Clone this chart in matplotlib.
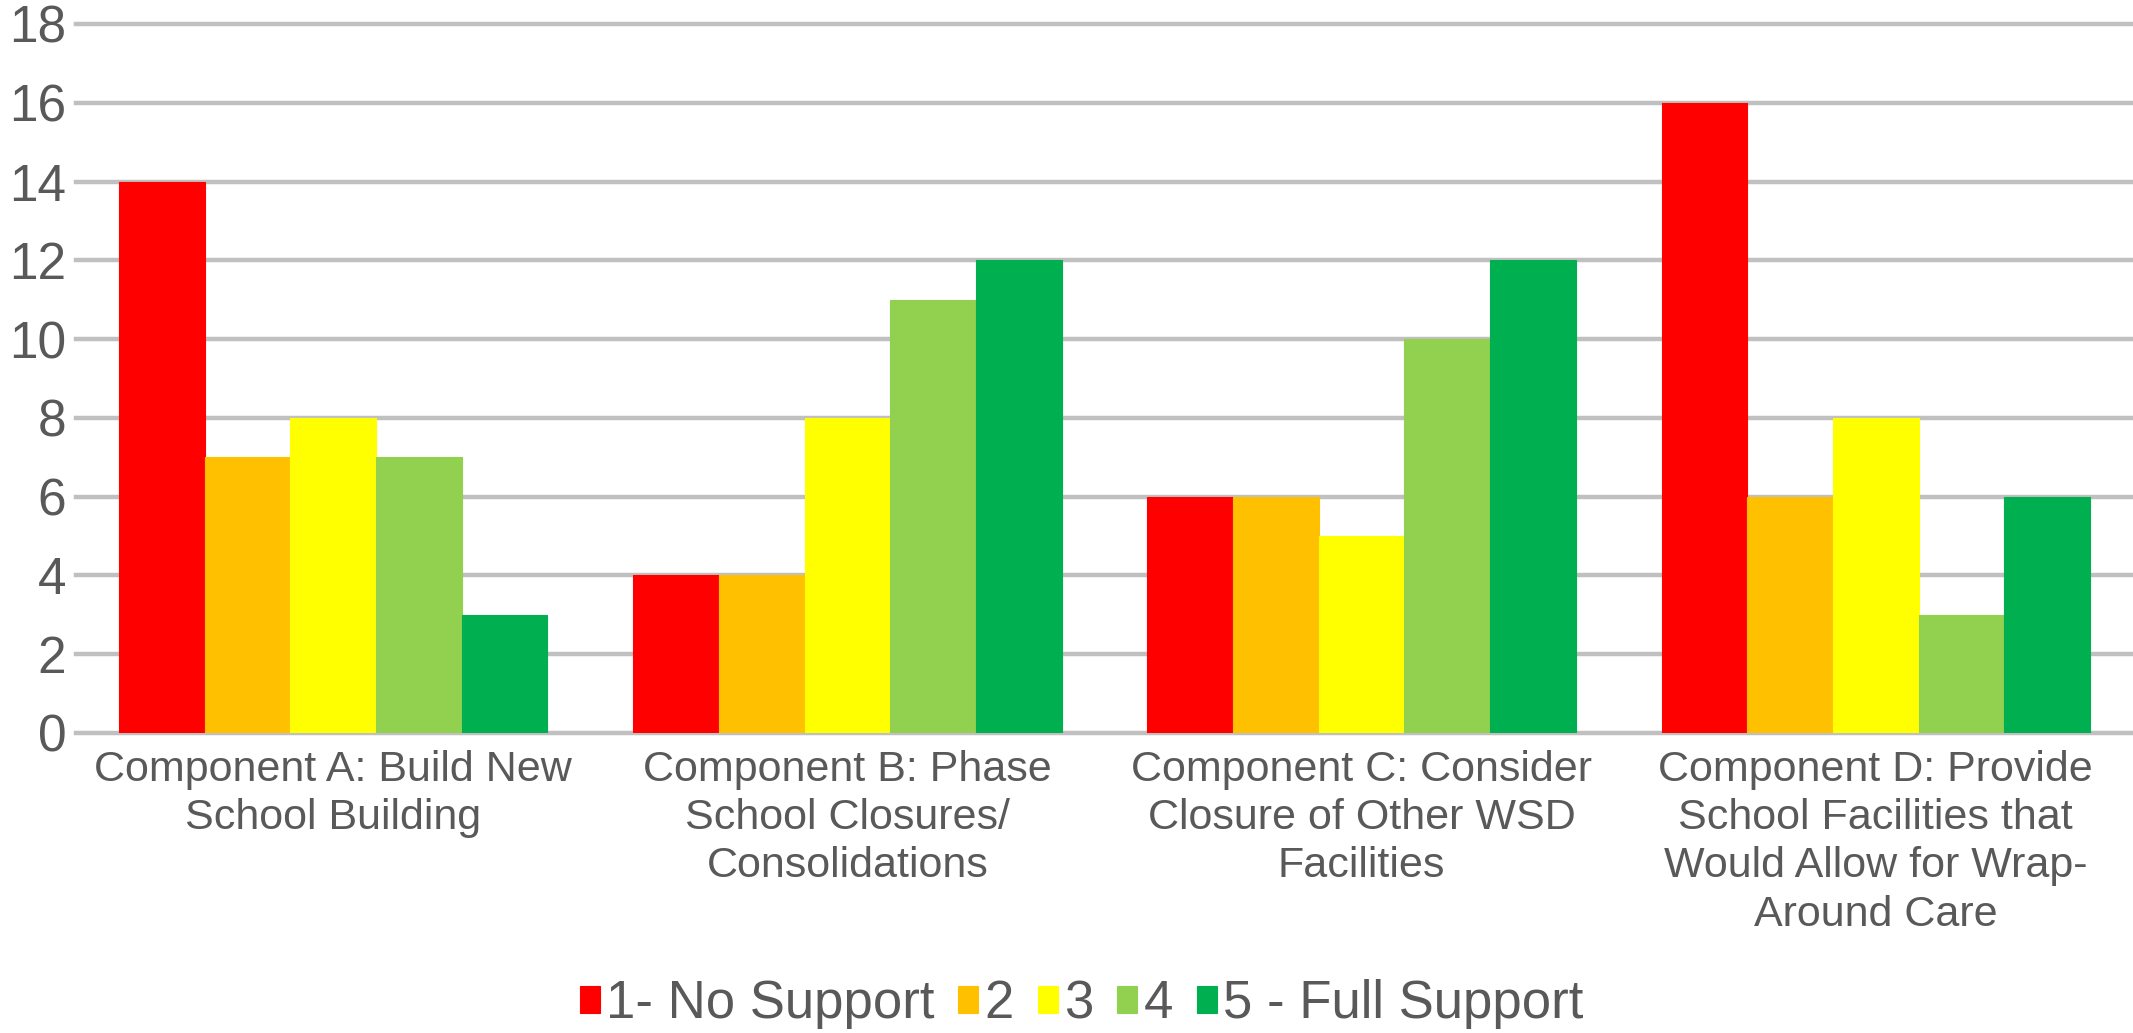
import numpy as np
import matplotlib
matplotlib.use("Agg")
import matplotlib.pyplot as plt

categories = [
    "Component A: Build New\nSchool Building",
    "Component B: Phase\nSchool Closures/\nConsolidations",
    "Component C: Consider\nClosure of Other WSD\nFacilities",
    "Component D: Provide\nSchool Facilities that\nWould Allow for Wrap-\nAround Care",
]
series_names = ["1- No Support", "2", "3", "4", "5 - Full Support"]
no_support = [14, 4, 6, 16]
level_2 = [7, 4, 6, 6]
level_3 = [8, 8, 5, 8]
level_4 = [7, 11, 10, 3]
full_support = [3, 12, 12, 6]

series = [no_support, level_2, level_3, level_4, full_support]
colors = ["#FF0000", "#FFC000", "#FFFF00", "#92D050", "#00B050"]

plt.rcParams["font.family"] = ["Liberation Sans", "DejaVu Sans"]
text_color = "#595959"

fig = plt.figure(figsize=(21.33, 10.33), dpi=100)
ax = fig.add_axes([76 / 2133, 300 / 1033, 1 - 76 / 2133, (1009 - 300) / 1033])

x = np.arange(len(categories))
width = 1 / 6
for i, (vals, name, c) in enumerate(zip(series, series_names, colors)):
    ax.bar(x + (i - 2) * width, vals, width, color=c, label=name,
           edgecolor=c, linewidth=0.8, zorder=3)

ax.set_ylim(0, 18)
ax.set_yticks(range(0, 19, 2))
ax.set_xlim(-0.5, 3.5)
ax.set_xticks(x)
ax.set_xticklabels(categories, fontsize=31, color=text_color, linespacing=1.27)
ax.tick_params(axis="y", labelsize=37, labelcolor=text_color, length=0, pad=7)
ax.tick_params(axis="x", length=0, pad=12)

ax.grid(axis="y", color="#c0c0c0", linewidth=3.2, zorder=0)
for line in ax.get_ygridlines():
    line.set_clip_on(False)
for s in ["top", "right", "left", "bottom"]:
    ax.spines[s].set_visible(False)

fig.legend(loc="center", bbox_to_anchor=(0.507, 0.028), ncol=5, frameon=False,
           fontsize=38, labelcolor=text_color, handlelength=0.38, handleheight=0.4,
           handletextpad=0.12, columnspacing=0.45)

fig.savefig("out.png", dpi=100)
